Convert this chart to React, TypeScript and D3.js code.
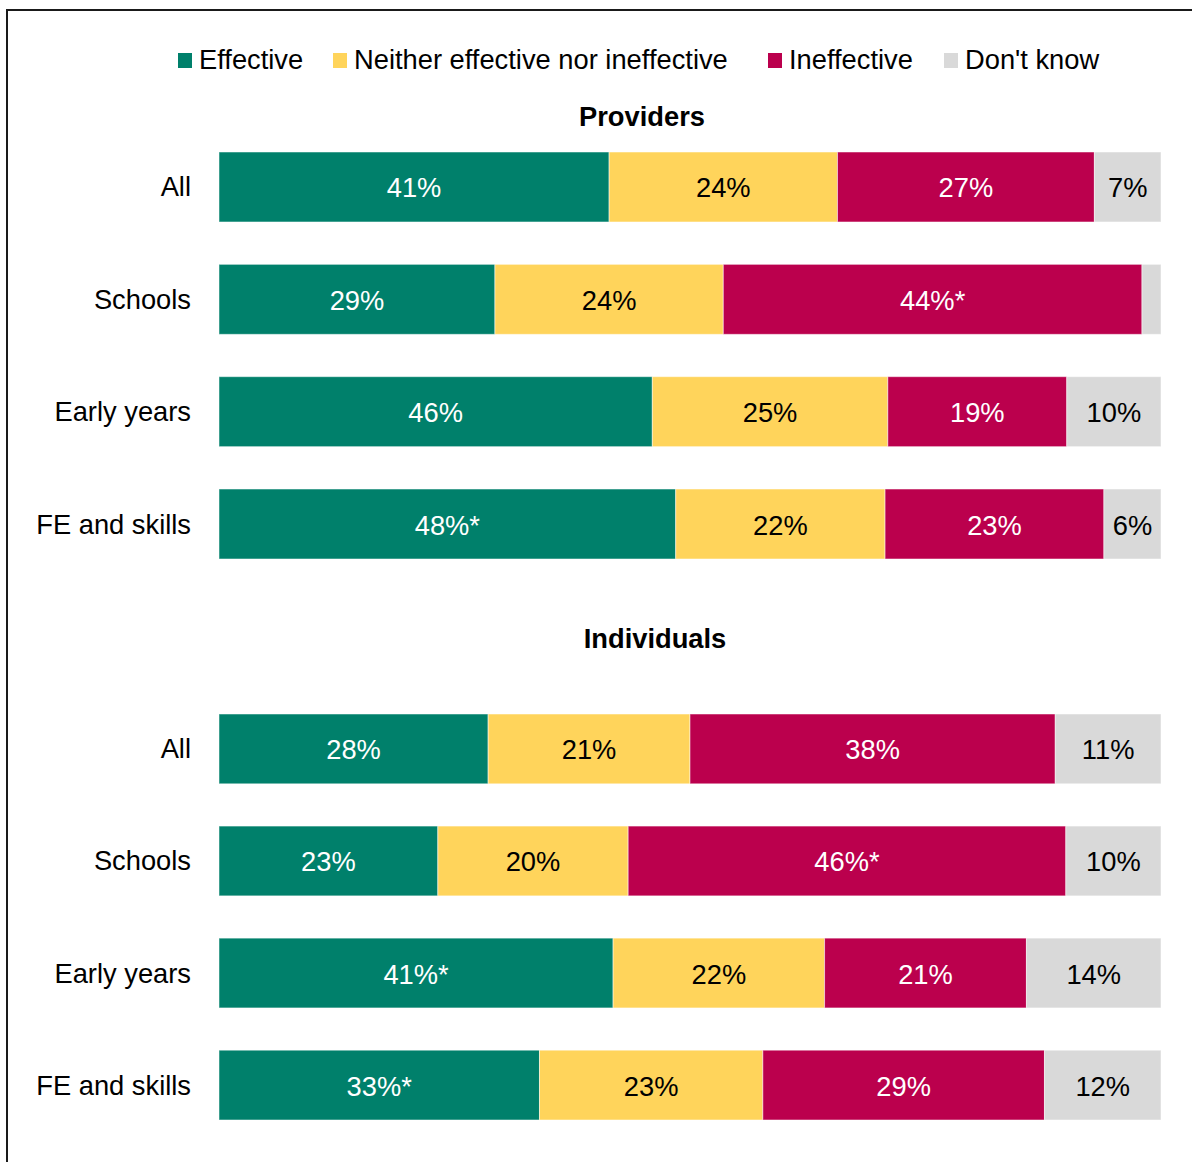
import React from "react";
import * as d3 from "d3";

const seriesNames = ["Effective", "Neither effective nor ineffective", "Ineffective", "Don't know"];
const seriesColors = ["#00806B", "#FFD45B", "#BB004D", "#D9D9D9"];
const labelColors = ["#ffffff", "#000000", "#ffffff", "#000000"];

const categories = ["All", "Schools", "Early years", "FE and skills"];

// Providers (percent values per category)
const provEffective = [41, 29, 46, 48];
const provNeither = [24, 24, 25, 22];
const provIneffective = [27, 44, 19, 23];
const provDontKnow = [7, 2, 10, 6];
// significance markers: [category][series]
const provStars = [
  [false, false, false, false],
  [false, false, true, false],
  [false, false, false, false],
  [true, false, false, false],
];

// Individuals
const indEffective = [28, 23, 41, 33];
const indNeither = [21, 20, 22, 23];
const indIneffective = [38, 46, 21, 29];
const indDontKnow = [11, 10, 14, 12];
const indStars = [
  [false, false, false, false],
  [false, false, true, false],
  [true, false, false, false],
  [true, false, false, false],
];

const groups = [
  { title: "Providers", titleX: 642, titleY: 116, range: [152, 559], series: [provEffective, provNeither, provIneffective, provDontKnow], stars: provStars },
  { title: "Individuals", titleX: 655, titleY: 638, range: [714, 1120], series: [indEffective, indNeither, indIneffective, indDontKnow], stars: indStars },
];

const legendX = [178, 333, 768, 944];

const FONT = "Arial, 'Liberation Sans', Helvetica, sans-serif";
const FS = 27.3;

export default function App() {
  const x = d3.scaleLinear().domain([0, 100]).range([219, 1161]);

  return (
    <svg
      width={1192}
      height={1162}
      style={{ position: "absolute", left: 0, top: 0, background: "#fff" }}
      fontFamily={FONT}
    >
      <rect x={0} y={0} width={1192} height={1162} fill="#fff" />
      <rect x={7} y={10} width={1200} height={1200} fill="none" stroke="#1a1a1a" strokeWidth={2} />

      {/* Legend */}
      {seriesNames.map((name, i) => (
        <g key={name}>
          <rect x={legendX[i]} y={53} width={14} height={15} fill={seriesColors[i]} />
          <text x={legendX[i] + 21} y={69} fontSize={FS} fill="#000">
            {name}
          </text>
        </g>
      ))}

      {groups.map((g) => {
        const y = d3.scaleBand<string>().domain(categories).range(g.range as [number, number]).paddingInner(0.377).paddingOuter(0);
        return (
          <g key={g.title}>
            <text x={g.titleX} y={g.titleY} fontSize={FS} fontWeight="bold" textAnchor="middle" dominantBaseline="central" fill="#000">
              {g.title}
            </text>
            {categories.map((cat, ci) => {
              const vals = g.series.map((s) => s[ci]);
              const total = d3.sum(vals);
              const stack = d3.cumsum(vals.map((v) => (v / total) * 100));
              const y0 = y(cat)!;
              const bw = y.bandwidth();
              return (
                <g key={cat}>
                  <text x={191} y={y0 + bw / 2} fontSize={FS} textAnchor="end" dominantBaseline="central" fill="#000">
                    {cat}
                  </text>
                  {vals.map((v, si) => {
                    const start = si === 0 ? 0 : stack[si - 1];
                    const end = stack[si];
                    const x0 = x(start);
                    const x1 = x(end);
                    return (
                      <g key={si}>
                        <rect x={x0} y={y0} width={x1 - x0} height={bw} fill={seriesColors[si]} stroke="#ffffff" strokeOpacity={0.5} strokeWidth={1} />
                        {v >= 4 && (
                          <text
                            x={(x0 + x1) / 2}
                            y={y0 + bw / 2 + 1}
                            fontSize={FS}
                            textAnchor="middle"
                            dominantBaseline="central"
                            fill={labelColors[si]}
                          >
                            {`${v}%${g.stars[ci][si] ? "*" : ""}`}
                          </text>
                        )}
                      </g>
                    );
                  })}
                </g>
              );
            })}
          </g>
        );
      })}
    </svg>
  );
}
